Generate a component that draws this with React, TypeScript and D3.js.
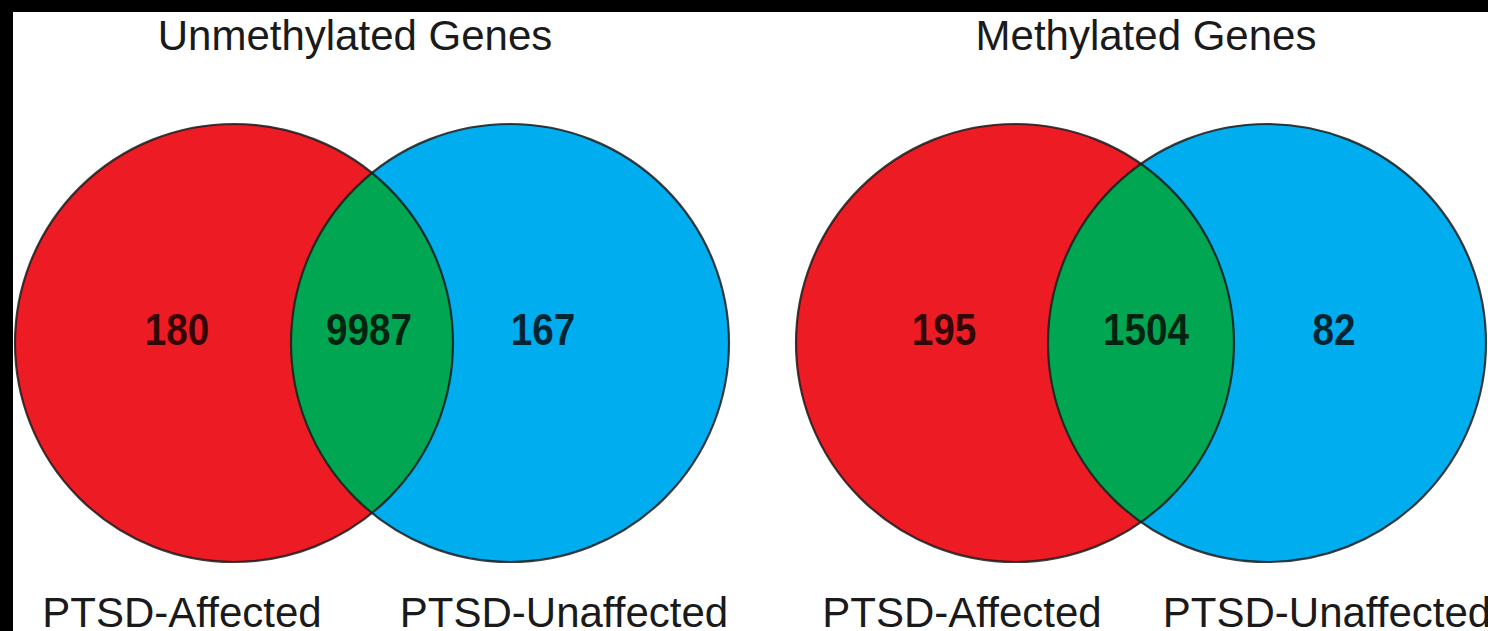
import React, { useEffect, useRef } from 'react'
import * as d3 from 'd3'

// values
const panelTitles = ['Unmethylated Genes', 'Methylated Genes']
const setNames = ['PTSD-Affected', 'PTSD-Unaffected']
const affectedOnly = [180, 195]
const sharedGenes = [9987, 1504]
const unaffectedOnly = [167, 82]

const W = 1488
const H = 631
const R = 219
const cy = 343

const colors = {
  affected: '#ED1C24',
  unaffected: '#00AEEF',
  shared: '#00A651',
  stroke: '#1b1b1b',
}

// per-panel layout (pixel anchors), kept apart from the data
const layout = [
  { title: 355, cA: 234, cB: 510, nA: 177, nAB: 369, nB: 543, lA: 182, lB: 564 },
  { title: 1146, cA: 1015, cB: 1267, nA: 944, nAB: 1146, nB: 1334, lA: 962, lB: 1327 },
]

function drawVenn(svgEl: SVGSVGElement) {
  const svg = d3.select(svgEl)
  svg.selectAll('*').remove()

  // black frame on top and left, the rest white
  svg.append('rect').attr('width', W).attr('height', H).attr('fill', '#000')
  svg.append('rect').attr('x', 13).attr('y', 12).attr('width', W - 13).attr('height', H - 12).attr('fill', '#fff')

  const defs = svg.append('defs')
  const font = "'Liberation Sans', Arial, sans-serif"

  panelTitles.forEach((title, i) => {
    const L = layout[i]
    const g = svg.append('g')

    defs
      .append('clipPath')
      .attr('id', `clipA${i}`)
      .append('circle')
      .attr('cx', L.cA)
      .attr('cy', cy)
      .attr('r', R)

    g.append('circle').attr('cx', L.cA).attr('cy', cy).attr('r', R).attr('fill', colors.affected)
    g.append('circle').attr('cx', L.cB).attr('cy', cy).attr('r', R).attr('fill', colors.unaffected)
    g.append('circle')
      .attr('cx', L.cB)
      .attr('cy', cy)
      .attr('r', R)
      .attr('fill', colors.shared)
      .attr('clip-path', `url(#clipA${i})`)

    // outlines on top
    ;[L.cA, L.cB].forEach(cx => {
      g.append('circle')
        .attr('cx', cx)
        .attr('cy', cy)
        .attr('r', R)
        .attr('fill', 'none')
        .attr('stroke', colors.stroke)
        .attr('stroke-opacity', 0.85)
        .attr('stroke-width', 2.2)
    })

    g.append('text')
      .attr('x', L.title)
      .attr('y', 50)
      .attr('text-anchor', 'middle')
      .style('font-family', font)
      .style('font-size', '42px')
      .style('fill', '#1a1a1a')
      .text(title)

    const counts = [
      { x: L.nA, v: affectedOnly[i] },
      { x: L.nAB, v: sharedGenes[i] },
      { x: L.nB, v: unaffectedOnly[i] },
    ]
    g.selectAll('text.count')
      .data(counts)
      .enter()
      .append('text')
      .attr('class', 'count')
      .attr('transform', d => `translate(${d.x},345) scale(0.88,1)`)
      .attr('text-anchor', 'middle')
      .style('font-family', font)
      .style('font-weight', 'bold')
      .style('font-size', '44px')
      .style('fill', '#000')
      .style('fill-opacity', 0.78)
      .text(d => d3.format('d')(d.v))

    g.selectAll('text.set')
      .data([
        { x: L.lA, t: setNames[0] },
        { x: L.lB, t: setNames[1] },
      ])
      .enter()
      .append('text')
      .attr('class', 'set')
      .attr('x', d => d.x)
      .attr('y', 627)
      .attr('text-anchor', 'middle')
      .style('font-family', font)
      .style('font-size', '42px')
      .style('fill', '#1a1a1a')
      .text(d => d.t)
  })
}

export default function App() {
  const ref = useRef<SVGSVGElement>(null)

  useEffect(() => {
    if (ref.current) drawVenn(ref.current)
  }, [])

  return (
    <div style={{ position: 'fixed', left: 0, top: 0, width: W, height: H, overflow: 'hidden' }}>
      <svg ref={ref} width={W} height={H} style={{ display: 'block' }} />
    </div>
  )
}
